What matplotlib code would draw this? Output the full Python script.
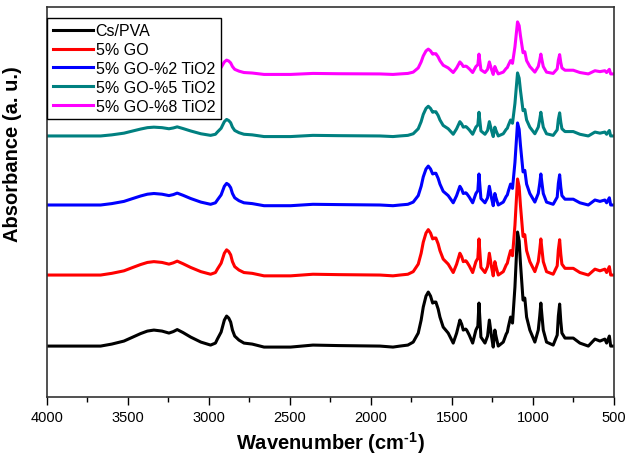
import matplotlib
matplotlib.use("Agg")
import matplotlib.pyplot as plt

plt.rcParams['font.family'] = ['Liberation Sans', 'DejaVu Sans']
plt.rcParams['mathtext.fontset'] = 'custom'
plt.rcParams['mathtext.rm'] = 'Liberation Sans'
plt.rcParams['mathtext.bf'] = 'Liberation Sans:bold'

# wavenumber (cm-1)
wavenumber = [4000, 3800, 3669, 3600, 3525, 3470, 3422, 3380, 3340, 3290,
              3247, 3220, 3196, 3160, 3113, 3050, 2990, 2960, 2948, 2925,
              2905, 2891, 2878, 2866, 2855, 2841, 2815, 2784, 2733, 2660,
              2496, 2358, 2200, 1944, 1864, 1821, 1772, 1739, 1708, 1690,
              1677, 1660, 1646, 1632, 1619, 1608, 1599, 1585, 1574, 1554,
              1523, 1492, 1471, 1451, 1440, 1430, 1415, 1409, 1393, 1372,
              1352, 1340, 1333, 1321, 1296, 1280, 1269, 1255, 1245, 1235,
              1228, 1214, 1183, 1165, 1158, 1152, 1138, 1126, 1111, 1095,
              1085, 1077, 1061, 1050, 1039, 1019, 988, 967, 958, 951,
              944, 936, 916, 875, 850, 843, 835, 828, 821, 802,
              751, 710, 658, 617, 586, 556, 545, 528, 520, 500]

cs_pva = [0, 0, 0, 2, 5, 9, 12.5, 15, 16, 15,
          13, 14.5, 16.5, 13.5, 9, 4, 1, 3, 7, 14,
          26, 30, 28, 24, 16, 10, 6, 3, 2, -1,
          -1, 1, 0.5, 0, -1, 0, 1, 4, 13, 26,
          39, 50, 54, 50, 43, 44, 44, 37, 29, 19,
          13, 3, 13, 26, 22, 16, 17, 16, 11, 3,
          16, 20, 43, 9, 3, 10, 26, 9, -1, 16,
          10, 0, 4, 12, 14, 19, 29, 23, 59, 114,
          105, 83, 46, 48, 29, 16, 4, 16, 30, 43,
          30, 16, 4, 1, 11, 30, 42, 25, 13, 8,
          8, 3, 0, 7, 5, 7, 3, 10, 0, 0]

go5 = [0, 0, 0, 1.7, 4.2, 7.6, 10.5, 12.6, 13.4, 12.6,
       10.9, 12.2, 13.9, 11.3, 7.6, 3.4, 0.8, 2.5, 5.9, 11.8,
       21.8, 25.2, 23.5, 20.2, 13.4, 8.4, 5.0, 2.5, 1.7, -0.8,
       -0.8, 0.8, 0.4, 0, -0.8, 0, 0.8, 3.4, 10.9, 21.8,
       32.8, 42.0, 45.4, 42.0, 36.1, 37.0, 37.0, 31.1, 24.4, 16.0,
       10.9, 2.5, 10.9, 21.8, 18.5, 13.4, 14.3, 13.4, 9.2, 2.5,
       13.4, 16.8, 36.1, 7.6, 2.5, 8.4, 21.8, 7.6, -0.8, 13.4,
       8.4, 0, 3.4, 10.1, 11.8, 16.0, 24.4, 19.3, 49.6, 96.0,
       88.2, 69.7, 38.6, 40.3, 24.4, 13.4, 3.4, 13.4, 25.2, 36.1,
       25.2, 13.4, 3.4, 0.8, 9.2, 25.2, 35.3, 21.0, 10.9, 6.7,
       6.7, 2.5, 0, 5.9, 4.2, 5.9, 2.5, 8.4, 0, 0]

go5_ti2 = [0, 0, 0, 1.4, 3.6, 6.5, 9.0, 10.8, 11.5, 10.8,
           9.4, 10.4, 11.9, 9.7, 6.5, 2.9, 0.7, 2.2, 5.0, 10.1,
           18.7, 21.6, 20.2, 17.3, 11.5, 7.2, 4.3, 2.2, 1.4, -0.7,
           -0.7, 0.7, 0.4, 0, -0.7, 0, 0.7, 2.9, 9.4, 18.7,
           28.1, 36.0, 38.9, 36.0, 31.0, 31.7, 31.7, 26.6, 20.9, 13.7,
           9.4, 2.2, 9.4, 18.7, 15.8, 11.5, 12.2, 11.5, 7.9, 2.2,
           11.5, 14.4, 31.0, 6.5, 2.2, 7.2, 18.7, 6.5, -0.7, 11.5,
           7.2, 0, 2.9, 8.6, 10.1, 13.7, 20.9, 16.6, 42.5, 82.0,
           75.6, 59.8, 33.1, 34.6, 20.9, 11.5, 2.9, 11.5, 21.6, 31.0,
           21.6, 11.5, 2.9, 0.7, 7.9, 21.6, 30.2, 18.0, 9.4, 5.8,
           5.8, 2.2, 0, 5.0, 3.6, 5.0, 2.2, 7.2, 0, 0]

go5_ti5 = [0, 0, 0, 1.1, 2.8, 5.0, 6.9, 8.3, 8.8, 8.3,
           7.2, 8.0, 9.1, 7.4, 5.0, 2.2, 0.6, 1.7, 3.9, 7.7,
           14.3, 16.5, 15.4, 13.2, 8.8, 5.5, 3.3, 1.7, 1.1, -0.6,
           -0.6, 0.6, 0.3, 0, -0.6, 0, 0.6, 2.2, 7.2, 14.3,
           21.5, 27.5, 29.7, 27.5, 23.7, 24.2, 24.2, 20.4, 16.0, 10.5,
           7.2, 1.7, 7.2, 14.3, 12.1, 8.8, 9.4, 8.8, 6.1, 1.7,
           8.8, 11.0, 23.7, 5.0, 1.7, 5.5, 14.3, 5.0, -0.6, 8.8,
           5.5, 0, 2.2, 6.6, 7.7, 10.5, 16.0, 12.7, 32.5, 63.0,
           57.8, 45.7, 25.3, 26.4, 16.0, 8.8, 2.2, 8.8, 16.5, 23.7,
           16.5, 8.8, 2.2, 0.6, 6.1, 16.5, 23.1, 13.8, 7.2, 4.4,
           4.4, 1.7, 0, 3.9, 2.8, 3.9, 1.7, 5.5, 0, 0]

go5_ti8 = [0, 0, 0, 0.9, 2.3, 4.1, 5.8, 6.9, 7.4, 6.9,
           6.0, 6.7, 7.6, 6.2, 4.1, 1.8, 0.5, 1.4, 3.2, 6.4,
           12.0, 13.8, 12.9, 11.0, 7.4, 4.6, 2.8, 1.4, 0.9, -0.5,
           -0.5, 0.5, 0.2, 0, -0.5, 0, 0.5, 1.8, 6.0, 12.0,
           17.9, 23.0, 24.8, 23.0, 19.8, 20.2, 20.2, 17.0, 13.3, 8.7,
           6.0, 1.4, 6.0, 12.0, 10.1, 7.4, 7.8, 7.4, 5.1, 1.4,
           7.4, 9.2, 19.8, 4.1, 1.4, 4.6, 12.0, 4.1, -0.5, 7.4,
           4.6, 0, 1.8, 5.5, 6.4, 8.7, 13.3, 10.6, 27.1, 52.0,
           48.3, 38.2, 21.2, 22.1, 13.3, 7.4, 1.8, 7.4, 13.8, 19.8,
           13.8, 7.4, 1.8, 0.5, 5.1, 13.8, 19.3, 11.5, 6.0, 3.7,
           3.7, 1.4, 0, 3.2, 2.3, 3.2, 1.4, 4.6, 0, 0]

labels = ["Cs/PVA", "5% GO", "5% GO-%2 TiO2", "5% GO-%5 TiO2", "5% GO-%8 TiO2"]
series = [cs_pva, go5, go5_ti2, go5_ti5, go5_ti8]
offsets = [0, 71, 141, 210, 272]   # vertical stacking
colors = ["#000000", "#ff0000", "#0000ff", "#008080", "#ff00ff"]
xticks = [4000, 3500, 3000, 2500, 2000, 1500, 1000, 500]


def main():
    fig = plt.figure(figsize=(6.29, 4.64), dpi=100)
    ax = fig.add_axes([0.0747, 0.142, 0.9013, 0.841])

    for vals, off, col, lab in zip(series, offsets, colors, labels):
        ax.plot(wavenumber, [v + off for v in vals], color=col, lw=2.2, label=lab)

    ax.set_xlim(4000, 500)
    ax.set_ylim(-51, 339)
    ax.set_xticks(xticks)
    ax.set_xticks([3750, 3250, 2750, 2250, 1750, 1250, 750], minor=True)
    ax.set_yticks([])
    ax.tick_params(axis='x', which='major', direction='out', length=6, width=1,
                   labelsize=10.5, pad=3, top=False)
    ax.tick_params(axis='x', which='minor', direction='out', length=3.5, width=1, top=False)
    for sp in ax.spines.values():
        sp.set_color('#333333')
        sp.set_linewidth(1.2)

    ax.set_xlabel("Wavenumber (cm$^{\\mathbf{\u20101}}$)", fontsize=14.5, fontweight='bold')
    ax.set_ylabel("Absorbance (a. u.)", fontsize=14.5, fontweight='bold')
    ax.yaxis.set_label_coords(-0.044, 0.626)

    leg = ax.legend(loc='upper left', bbox_to_anchor=(0.0, 0.972), borderaxespad=0,
                    fontsize=11.5, handlelength=2.5, handletextpad=0.2,
                    labelspacing=0.24, borderpad=0.35, fancybox=False, framealpha=1)
    leg.get_frame().set_edgecolor('#000000')
    leg.get_frame().set_linewidth(1.0)

    fig.savefig("out.png", dpi=100)


if __name__ == "__main__":
    main()
